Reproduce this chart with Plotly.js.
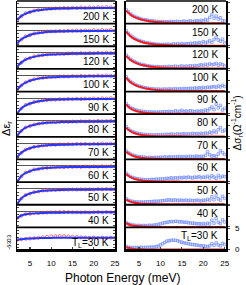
<!DOCTYPE html>
<html>
<head>
<meta charset="utf-8">
<script src="https://cdn.plot.ly/plotly-3.0.1.min.js"></script>
<style>html,body{margin:0;padding:0;background:#fff;}#chart{width:246px;height:285px;}</style>
</head>
<body>
<div id="chart"></div>
<script>
// ---- shared energy grids (meV) ----
const energyFit = [2, 2.5, 3, 3.5, 4, 5, 6, 7, 8, 10, 12, 15, 18, 21, 25];
const energyEps = [2,3,4,5,6,7,8,9,10,11,12,13,14,15,16,17,18,19,20,21,22,23,24,25];
const energySig = [2,2.5,3,3.5,4,4.5,5,5.5,6,6.5,7,7.5,8,8.5,9,9.5,10,10.5,11,11.5,12,12.5,13,13.5,14,14.5,15,15.5,16,16.5,17,17.5,18,18.5,19,19.5,20,20.5,21,21.5,22,22.5,23,23.5,24,24.5,25];

const rowLabels = ['200 K','150 K','120 K','100 K','90 K','80 K','70 K','60 K','50 K','40 K','T<sub>L</sub>=30 K'];

// ---- Δε_r fits (blue lines) ----
const epsFit200 = [-10.5,-8.6,-7.1,-6.0,-5.1,-3.8,-2.9,-2.3,-1.8,-1.2,-0.9,-0.7,-0.6,-0.5,-0.4];
const epsFit150 = [-11.4,-9.3,-7.7,-6.5,-5.6,-4.1,-3.1,-2.5,-2.0,-1.4,-1.1,-0.9,-0.8,-0.7,-0.6];
const epsFit120 = [-12.0,-9.8,-8.1,-6.8,-5.8,-4.3,-3.3,-2.6,-2.1,-1.5,-1.2,-0.9,-0.8,-0.7,-0.6];
const epsFit100 = [-12.2,-10.0,-8.3,-7.0,-6.0,-4.5,-3.4,-2.7,-2.2,-1.5,-1.2,-1.0,-0.8,-0.7,-0.6];
const epsFit90  = [-13.3,-10.6,-8.6,-7.2,-6.1,-4.6,-3.5,-2.7,-2.2,-1.5,-1.2,-1.0,-0.9,-0.8,-0.7];
const epsFit80  = [-12.8,-10.3,-8.4,-7.0,-5.9,-4.4,-3.4,-2.6,-2.1,-1.5,-1.2,-1.0,-0.9,-0.8,-0.7];
const epsFit70  = [-12.0,-9.6,-7.8,-6.5,-5.5,-4.1,-3.1,-2.4,-2.0,-1.4,-1.1,-0.9,-0.8,-0.7,-0.6];
const epsFit60  = [-13.3,-10.6,-8.5,-7.0,-5.9,-4.3,-3.2,-2.5,-2.0,-1.4,-1.1,-0.9,-0.8,-0.8,-0.7];
const epsFit50  = [-13.2,-10.3,-8.2,-6.7,-5.6,-4.1,-3.1,-2.4,-1.9,-1.4,-1.1,-1.0,-0.9,-0.8,-0.8];
const epsFit40  = [-6.0,-4.6,-3.6,-3.0,-2.6,-2.1,-1.8,-1.6,-1.5,-1.3,-1.2,-1.1,-1.0,-0.9,-0.8];
const epsFit30  = [1.0,1.2,1.4,1.6,1.8,2.0,2.2,2.3,2.4,2.5,2.6,2.6,2.6,2.6,2.6];

// ---- Δε_r data (red circles) ----
const epsData200 = [-10.2,-7.3,-4.8,-3.9,-2.6,-2.1,-1.5,-1.2,-1.0,-0.7,-0.8,-0.4,-0.6,-0.2,-0.4,0.1,-0.3,0.2,-0.1,0.3,0.0,0.4,0.1,-0.2];
const epsData150 = [-11.1,-7.9,-5.3,-4.2,-2.8,-2.2,-1.8,-1.2,-1.1,-1.0,-0.7,-0.8,-0.5,-0.6,-0.3,-0.5,-0.2,-0.4,0.0,-0.3,0.1,-0.2,0.2,-0.4];
const epsData120 = [-11.7,-8.3,-5.5,-4.4,-3.0,-2.4,-1.9,-1.4,-1.2,-1.1,-0.8,-0.9,-0.6,-0.5,-0.7,-0.3,-0.5,-0.2,-0.4,0.0,-0.3,0.1,-0.2,-0.1];
const epsData100 = [-11.9,-8.4,-5.8,-4.3,-3.2,-2.4,-2.0,-1.5,-1.3,-1.1,-0.9,-0.8,-0.9,-0.5,-0.7,-0.4,-0.6,-0.3,-0.5,-0.1,-0.4,0.0,-0.3,-0.2];
const epsData90  = [-13.0,-8.8,-5.8,-4.7,-3.3,-2.8,-2.0,-1.7,-1.3,-1.4,-1.0,-1.1,-0.8,-0.9,-0.6,-0.8,-0.5,-0.7,-0.3,-0.6,-0.2,-0.5,-0.1,-0.4];
const epsData80  = [-12.5,-8.6,-5.7,-4.5,-3.2,-2.6,-1.9,-1.6,-1.3,-1.2,-1.0,-0.9,-1.0,-0.7,-0.8,-0.5,-0.7,-0.4,-0.6,-0.2,-0.5,-0.3,-0.1,-0.4];
const epsData70  = [-11.7,-8.0,-5.3,-4.2,-2.9,-2.5,-1.8,-1.5,-1.2,-1.2,-0.9,-1.0,-0.7,-0.8,-0.5,-0.6,-0.4,-0.7,-0.3,-0.5,-0.1,-0.4,-0.2,-0.3];
const epsData60  = [-13.0,-8.7,-5.6,-4.4,-3.0,-2.6,-1.8,-1.6,-1.2,-1.2,-0.9,-1.0,-0.7,-0.9,-0.6,-0.8,-0.5,-0.7,-0.4,-0.6,-0.3,-0.5,-0.2,-0.4];
const epsData50  = [-12.9,-8.4,-5.4,-4.2,-2.9,-2.5,-1.7,-1.5,-1.2,-1.1,-1.0,-0.8,-0.9,-0.7,-0.8,-0.6,-0.7,-0.5,-0.8,-0.4,-0.6,-0.3,-0.5,-0.6];
const epsData40  = [-5.7,-3.8,-2.4,-2.2,-1.5,-1.5,-1.2,-1.1,-0.9,-0.8,-0.7,-0.6,-0.7,-0.8,-0.9,-1.0,-0.8,-1.1,-0.9,-0.7,-1.0,-0.6,-0.9,-0.7];
const epsData30  = [1.0,1.4,1.7,2.0,2.3,2.7,3.1,3.5,3.8,4.0,4.1,4.0,3.8,3.5,3.2,3.0,2.8,2.6,2.9,2.5,2.8,2.4,2.7,2.5];

// ---- Δσ_r fits (red lines) ----
const sigFit200 = [3.0,2.5,2.05,1.7,1.45,1.05,0.75,0.55,0.4,0.22,0.13,0.06,0.03,0.02,0.01];
const sigFit150 = [3.4,2.8,2.3,1.9,1.6,1.15,0.82,0.6,0.43,0.24,0.14,0.07,0.04,0.02,0.01];
const sigFit120 = [3.0,2.5,2.05,1.7,1.45,1.05,0.75,0.55,0.4,0.22,0.13,0.06,0.03,0.02,0.01];
const sigFit100 = [3.2,2.6,2.15,1.8,1.5,1.08,0.78,0.57,0.42,0.23,0.13,0.06,0.03,0.02,0.01];
const sigFit90  = [2.2,1.7,1.3,1.0,0.78,0.48,0.3,0.19,0.12,0.05,0.02,0.01,0.0,0.0,0.0];
const sigFit80  = [2.1,1.6,1.25,0.95,0.75,0.45,0.28,0.18,0.11,0.05,0.02,0.01,0.0,0.0,0.0];
const sigFit70  = [1.75,1.35,1.05,0.8,0.62,0.38,0.24,0.15,0.1,0.04,0.02,0.01,0.0,0.0,0.0];
const sigFit60  = [1.8,1.4,1.08,0.83,0.64,0.39,0.24,0.15,0.1,0.04,0.02,0.01,0.0,0.0,0.0];
const sigFit50  = [1.1,0.85,0.65,0.5,0.38,0.22,0.13,0.08,0.05,0.02,0.01,0.0,0.0,0.0,0.0];
const sigFit40  = [0.9,0.65,0.48,0.36,0.27,0.15,0.09,0.05,0.03,0.01,0.0,0.0,0.0,0.0,0.0];
const sigFit30  = [0.6,0.42,0.3,0.22,0.16,0.09,0.05,0.03,0.02,0.01,0.0,0.0,0.0,0.0,0.0];

// ---- Δσ_r data (blue squares) ----
const sigData200 = [3.2,2.7,2.2,1.9,1.6,1.35,1.2,1.0,0.9,0.8,0.7,0.6,0.55,0.5,0.45,0.4,0.35,0.4,0.3,0.35,0.3,0.4,0.3,0.35,0.45,0.3,0.4,0.5,0.35,0.45,0.55,0.4,0.5,0.6,0.45,0.7,0.55,0.9,0.7,1.4,2.1,1.2,1.7,1.0,1.3,0.6,0.5];
const sigData150 = [3.6,3.0,2.5,2.1,1.8,1.5,1.3,1.1,0.95,0.8,0.7,0.6,0.55,0.45,0.4,0.35,0.3,0.35,0.3,0.4,0.35,0.3,0.45,0.4,0.5,0.35,0.55,0.4,0.5,0.45,0.6,0.5,0.7,0.55,0.8,0.6,1.0,0.7,0.9,1.2,0.8,1.5,2.0,1.4,1.1,1.6,0.7];
const sigData120 = [3.2,2.7,2.2,1.9,1.6,1.35,1.15,1.0,0.85,0.75,0.65,0.55,0.5,0.45,0.4,0.45,0.35,0.4,0.45,0.35,0.5,0.4,0.45,0.55,0.4,0.5,0.6,0.45,0.55,0.5,0.65,0.55,0.7,0.6,0.75,0.9,0.7,1.0,0.8,1.1,0.9,1.0,1.2,0.8,1.1,0.9,0.6];
const sigData100 = [3.4,2.8,2.3,1.95,1.65,1.4,1.2,1.05,0.9,0.8,0.7,0.6,0.55,0.5,0.45,0.5,0.4,0.45,0.5,0.4,0.55,0.45,0.5,0.6,0.45,0.55,0.5,0.65,0.55,0.6,0.7,0.6,0.75,0.65,0.8,0.7,0.9,0.75,0.95,0.85,1.0,1.1,0.9,1.2,1.0,1.4,1.1];
const sigData90  = [2.4,1.9,1.5,1.2,1.0,0.85,0.7,0.6,0.55,0.5,0.45,0.4,0.45,0.35,0.4,0.35,0.45,0.4,0.5,0.45,0.55,0.5,0.45,0.7,0.55,0.6,0.8,0.5,0.65,0.55,0.7,0.6,0.5,0.65,0.55,0.7,0.6,0.9,0.7,1.2,1.6,1.0,2.3,1.4,2.0,0.9,1.3];
const sigData80  = [2.3,1.8,1.4,1.15,0.95,0.8,0.65,0.55,0.5,0.45,0.4,0.35,0.4,0.3,0.35,0.4,0.35,0.45,0.4,0.5,0.45,0.55,0.5,0.45,0.6,0.5,0.55,0.65,0.5,0.6,0.55,0.7,0.6,0.65,0.55,0.75,0.6,0.8,0.7,1.0,0.8,1.3,0.9,1.6,2.1,1.2,1.5];
const sigData70  = [1.9,1.5,1.2,0.95,0.8,0.65,0.55,0.5,0.45,0.4,0.35,0.4,0.3,0.35,0.4,0.35,0.45,0.4,0.5,0.4,0.55,0.45,0.5,0.45,0.6,0.5,0.55,0.45,0.6,0.5,0.65,0.55,0.6,0.7,0.55,0.65,0.6,0.9,1.7,1.0,0.7,0.8,0.6,1.2,2.0,1.5,1.1];
const sigData60  = [2.0,1.6,1.25,1.0,0.85,0.7,0.6,0.55,0.5,0.45,0.5,0.45,0.55,0.5,0.6,0.55,0.65,0.6,0.7,0.8,0.75,0.9,0.8,0.95,0.85,1.0,0.9,1.05,0.95,1.1,1.0,0.9,1.1,1.0,1.2,0.95,1.1,1.0,1.3,0.9,1.4,1.1,0.8,1.5,1.0,1.3,1.2];
const sigData50  = [1.3,1.0,0.8,0.7,0.6,0.55,0.5,0.55,0.5,0.6,0.55,0.6,0.65,0.7,0.75,0.7,0.8,0.85,0.9,1.0,1.05,1.0,0.95,1.05,0.9,1.0,0.95,0.9,1.0,0.85,0.95,0.9,0.85,1.0,0.9,0.8,1.0,0.9,1.2,1.0,1.8,1.1,2.0,1.3,1.0,1.9,1.4];
const sigData40  = [1.0,0.75,0.55,0.45,0.4,0.35,0.35,0.3,0.35,0.3,0.35,0.4,0.35,0.45,0.5,0.6,0.75,0.9,1.0,1.1,1.2,1.3,1.25,1.35,1.3,1.2,1.25,1.1,1.15,1.0,0.95,0.9,0.85,0.8,0.75,0.7,0.8,0.65,0.9,0.7,1.6,0.9,2.0,1.1,0.8,1.7,1.2];
const sigData30  = [0.7,0.55,0.5,0.45,0.5,0.45,0.5,0.55,0.5,0.55,0.5,0.6,0.55,0.6,0.7,0.85,1.1,1.4,1.7,2.0,2.1,2.2,2.25,2.2,2.1,1.9,1.75,1.6,1.5,1.4,1.3,1.2,1.15,1.05,1.0,0.9,0.85,0.8,0.7,0.9,1.4,1.0,1.6,1.1,0.9,1.5,1.2];

const epsFits  = [epsFit200,epsFit150,epsFit120,epsFit100,epsFit90,epsFit80,epsFit70,epsFit60,epsFit50,epsFit40,epsFit30];
const epsDatas = [epsData200,epsData150,epsData120,epsData100,epsData90,epsData80,epsData70,epsData60,epsData50,epsData40,epsData30];
const sigFits  = [sigFit200,sigFit150,sigFit120,sigFit100,sigFit90,sigFit80,sigFit70,sigFit60,sigFit50,sigFit40,sigFit30];
const sigDatas = [sigData200,sigData150,sigData120,sigData100,sigData90,sigData80,sigData70,sigData60,sigData50,sigData40,sigData30];

const N = rowLabels.length;
const FONT = 'Arial, "Liberation Sans", sans-serif';
const traces = [];
const layout = {
  width: 246, height: 285,
  margin: {l: 17, r: 20, t: 1, b: 35, pad: 0},
  paper_bgcolor: '#fff', plot_bgcolor: 'rgba(0,0,0,0)',
  showlegend: false,
  font: {family: FONT, color: '#000', size: 8},
  shapes: [], annotations: []
};
const LX = [0, 0.471], RX = [0.5215, 1];
layout.xaxis = {domain: LX, anchor: 'y' + N, range: [1.95, 25.1], showline: true, linecolor: '#000', linewidth: 1.5,
  ticks: 'inside', ticklen: 3, tickwidth: 1.2, tickvals: [5,10,15,20,25], showgrid: false, zeroline: false,
  tickfont: {size: 8, family: FONT}, ticklabelstandoff: 5};
layout.xaxis2 = {domain: RX, anchor: 'y' + (2*N), range: [1.95, 25.3], showline: true, linecolor: '#000', linewidth: 1.5,
  ticks: 'inside', ticklen: 3, tickwidth: 1.2, tickvals: [5,10,15,20,25], showgrid: false, zeroline: false,
  tickfont: {size: 8, family: FONT}, ticklabelstandoff: 5};

for (let i = 0; i < N; i++) {
  const dom = [1 - (i + 1) / N, 1 - i / N];
  const li = i + 1, ri = i + 1 + N;
  const lName = li === 1 ? 'yaxis' : 'yaxis' + li;
  const lRef = li === 1 ? 'y' : 'y' + li;
  const rName = 'yaxis' + ri, rRef = 'y' + ri;
  const last = i === N - 1;

  layout[lName] = {domain: dom, anchor: 'x', range: last ? [-7.7, 11.4] : [-13.6, 5.5],
    showline: true, linecolor: '#000', linewidth: 1.5, mirror: 'allticks', ticks: 'inside', ticklen: 2, tickwidth: 1,
    tickvals: last ? [-6,-3,0,3,6,9] : [-12,-9,-6,-3,0,3], ticktext: last ? ['-6','-3','0','3','',''] : undefined,
    showticklabels: last, tickangle: -90, tickfont: {size: 6, family: FONT}, ticklabelstandoff: 2,
    showgrid: false, zeroline: !last, zerolinecolor: '#555', zerolinewidth: 1};
  layout[rName] = {domain: dom, anchor: 'x2', side: 'right', range: [-0.1, 5.3],
    showline: true, linecolor: '#000', linewidth: 1.5, mirror: true, ticks: 'outside', ticklen: 2, tickwidth: 1,
    tickvals: [0, 2.5, 5], ticktext: ['0', '', '5'], showticklabels: last, tickfont: {size: 8, family: FONT},
    ticklabelstandoff: 4, showgrid: false, zeroline: false};

  traces.push({x: energyEps, y: epsDatas[i], xaxis: 'x', yaxis: lRef, mode: 'markers', hoverinfo: 'skip',
    marker: {symbol: 'circle-open', size: 3, color: 'rgba(255,70,70,0.75)', line: {width: 1}}});
  traces.push({x: energyFit, y: epsFits[i], xaxis: 'x', yaxis: lRef, mode: 'lines', hoverinfo: 'skip',
    line: {color: '#2237ff', width: 2, shape: 'spline'}});
  traces.push({x: energySig, y: sigDatas[i], xaxis: 'x2', yaxis: rRef, mode: 'lines+markers', hoverinfo: 'skip',
    marker: {symbol: 'square-open', size: 2.5, color: '#6f8aff', line: {width: 0.7}}, line: {color: '#a9b7ff', width: 0.5}});
  traces.push({x: energyFit, y: sigFits[i], xaxis: 'x2', yaxis: rRef, mode: 'lines', hoverinfo: 'skip',
    line: {color: '#ff1a1a', width: 2, shape: 'spline'}});

  // row separators
  [['x', lRef], ['x2', rRef]].forEach(([xr, yr]) => {
    layout.shapes.push({type: 'line', xref: xr + ' domain', yref: yr + ' domain', x0: 0, x1: 1, y0: 0, y1: 0,
      line: {color: '#000', width: 1.8}});
    if (i === 0) layout.shapes.push({type: 'line', xref: xr + ' domain', yref: yr + ' domain', x0: 0, x1: 1, y0: 1, y1: 1,
      line: {color: '#000', width: 1.5}});
  });

  layout.annotations.push({text: rowLabels[i], xref: 'x domain', yref: lRef + ' domain', x: 0.955, y: 0.31,
    xanchor: 'right', yanchor: 'middle', showarrow: false, font: {size: 10, family: FONT, color: '#000'}});
  layout.annotations.push({text: rowLabels[i], xref: 'x2 domain', yref: rRef + ' domain', x: 0.94, y: 0.63,
    xanchor: 'right', yanchor: 'middle', showarrow: false, font: {size: 10, family: FONT, color: '#000'}});
}

layout.annotations.push({text: 'Photon Energy (meV)', xref: 'paper', yref: 'paper', x: 0.507, y: -0.112,
  xanchor: 'center', yanchor: 'middle', showarrow: false, font: {size: 12, family: FONT, color: '#000'}});
layout.annotations.push({text: 'Δε<sub>r</sub>', xref: 'paper', yref: 'paper', x: -0.048, y: 0.49, textangle: -90,
  xanchor: 'center', yanchor: 'middle', showarrow: false, font: {size: 11, family: FONT, color: '#000'}});
layout.annotations.push({text: 'Δσ<sub>r</sub>(Ω<sup>-1</sup>cm<sup>-1</sup>)', xref: 'paper', yref: 'paper', x: 1.05, y: 0.51, textangle: -90,
  xanchor: 'center', yanchor: 'middle', showarrow: false, font: {size: 10, family: FONT, color: '#000'}});

Plotly.newPlot('chart', traces, layout, {staticPlot: true, displayModeBar: false});
</script>
</body>
</html>
